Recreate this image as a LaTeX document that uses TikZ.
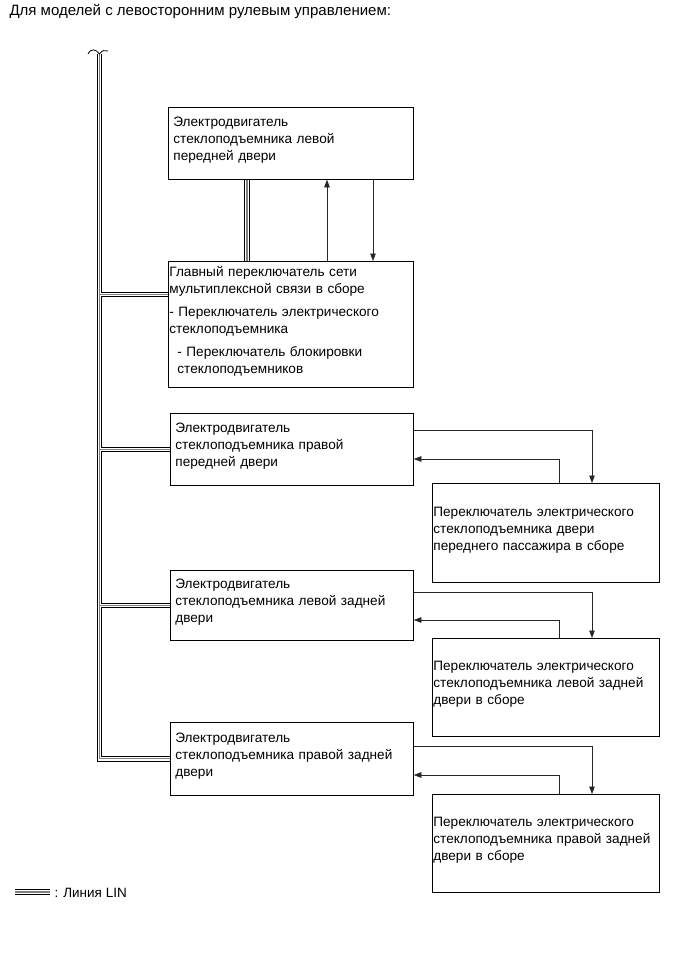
\documentclass[tikz,border=0pt]{standalone}
\usepackage{fontspec}
\setmainfont{Liberation Sans}
\usetikzlibrary{arrows.meta, positioning}

\begin{document}
\begin{tikzpicture}[x=1pt, y=-1pt,
    every node/.style={font=\fontsize{13.6}{17}\selectfont},
    unitbox/.style={draw, line width=0.8pt, anchor=north west, align=left, inner xsep=5pt, inner ysep=0pt,
      execute at end node={\endgraf\vspace*{6pt}}},
    sig/.style={draw=black!85, line width=0.6pt, -{Triangle[length=7.5pt,width=5.5pt]}},
    lin/.style={line width=5.4pt, postaction={draw=white, line width=3.2pt}, postaction={draw=gray, line width=1.1pt}}]
    \useasboundingbox (0,0) rectangle (692,953);

    \node[anchor=base west, font=\fontsize{15}{18}\selectfont] (title) at (6,15) {Для моделей с левосторонним рулевым управлением:};

    \node[unitbox, text width=235pt, minimum height=72pt] (lf) at (168,107)
    {Электродвигатель\\стеклоподъемника левой\\передней двери};
    \node[unitbox, inner xsep=1pt, text width=243pt, minimum height=126pt] (ms) at (168,261)
    {Главный переключатель сети\\мультиплексной связи в сборе\\[6pt]- Переключатель электрического\\стеклоподъемника\\[6pt]\hspace*{8pt}- Переключатель блокировки\\\hspace*{8pt}стеклоподъемников};
    \node[unitbox, text width=233pt, minimum height=72pt] (rf) at (170,413)
    {Электродвигатель\\стеклоподъемника правой\\передней двери};
    \node[unitbox, inner xsep=1pt, text width=225pt, minimum height=99pt] (fp) at (432,483)
    {Переключатель электрического\\стеклоподъемника двери\\переднего пассажира в сборе};
    \node[unitbox, text width=233pt, minimum height=70pt] (lr) at (170,570)
    {Электродвигатель\\стеклоподъемника левой задней\\двери};
    \node[unitbox, inner xsep=1pt, text width=225pt, minimum height=98pt] (lrs) at (432,638)
    {Переключатель электрического\\стеклоподъемника левой задней\\двери в сборе};
    \node[unitbox, text width=233pt, minimum height=73pt] (rr) at (170,722)
    {Электродвигатель\\стеклоподъемника правой задней\\двери};
    \node[unitbox, inner xsep=1pt, text width=225pt, minimum height=98pt] (rrs) at (432,794)
    {Переключатель электрического\\стеклоподъемника правой задней\\двери в сборе};

    % LIN bus
    \coordinate (cut) at (99.5,54);
    \coordinate (msin) at ([yshift=30pt]ms.west);
    \draw[lin] (cut) |- (rr.west)
    (cut |- msin) -- (msin)
    (cut |- rf.west) -- (rf.west)
    (cut |- lr.west) -- (lr.west)
    ([xshift=79pt]ms.north west) -- ([xshift=79pt]lf.south west);
    \draw[line width=0.8pt] (88,54) .. controls (91,48) and (96,49) .. (99.5,54)
    .. controls (102,50) and (105,50) .. (108,51);

    % signal lines
    \draw[sig] ([xshift=159pt]ms.north west) -- ([xshift=159pt]lf.south west);
    \draw[sig] ([xshift=205pt]lf.south west) -- ([xshift=205pt]ms.north west);
    \foreach \m/\s/\a/\b in {rf/fp/17/46, lr/lrs/22/50, rr/rrs/24/53}{
    \draw[sig] ([yshift=-\a pt]\m.north east) -| ([xshift=160pt]\s.north west);
    \draw[sig] ([xshift=127pt]\s.north west) |- ([yshift=-\b pt]\m.north east);
    }

    % legend
    \coordinate (legA) at (15,892);
    \coordinate (legB) at (50,892);
    \draw[lin] (legA) -- (legB);
    \node[anchor=base west, font=\fontsize{13.5}{16}\selectfont] (legtxt) at (51,897) {: Линия LIN};
\end{tikzpicture}
\end{document}
